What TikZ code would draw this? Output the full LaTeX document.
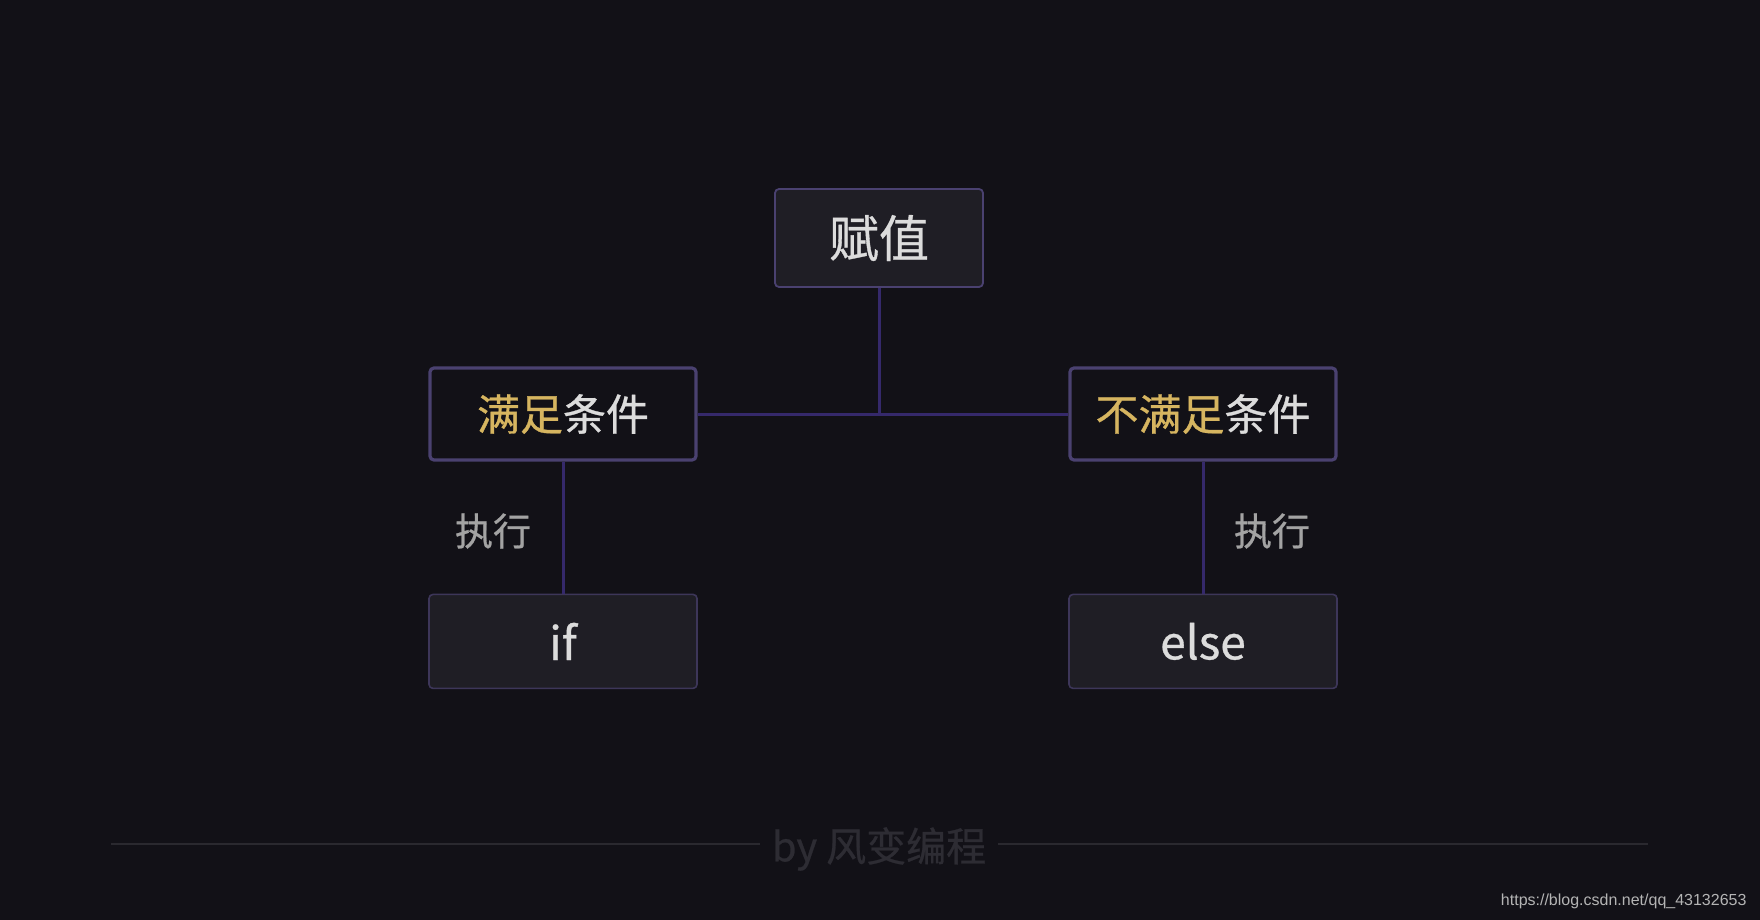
\documentclass[tikz,border=0pt]{standalone}
\usepackage{fontspec}
\setmainfont{Noto Sans CJK SC}
\newfontfamily\medfont{Noto Sans CJK SC}[FakeBold=0.7]
\newfontfamily\markfont{Liberation Sans}
\usepackage{tikz}
\usetikzlibrary{positioning}

\definecolor{bgdark}{HTML}{121117}
\definecolor{boxfill}{HTML}{1F1E25}
\definecolor{edgepurple}{HTML}{4A4170}
\definecolor{leafedge}{HTML}{3D3659}
\definecolor{linkpurple}{HTML}{35296B}
\definecolor{goldtext}{HTML}{D6B560}
\definecolor{lighttext}{HTML}{DCDCDC}
\definecolor{greytext}{HTML}{A3A3A3}
\definecolor{footline}{HTML}{2A292F}
\definecolor{foottext}{HTML}{2D2C33}
\definecolor{marktext}{HTML}{B4B4B4}

\begin{document}
\begin{tikzpicture}[
  x=1pt, y=-1pt,
  head/.style={rectangle, draw=edgepurple, fill=boxfill, line width=1.8pt,
               rounded corners=4pt, minimum width=208pt, minimum height=98pt,
               text=lighttext, font=\medfont\fontsize{50}{56}\selectfont},
  cond/.style={rectangle, draw=edgepurple, fill=bgdark, line width=3.2pt,
               rounded corners=4pt, minimum width=266pt, minimum height=92pt,
               text=lighttext, font=\medfont\fontsize{43}{48}\selectfont},
  leaf/.style={rectangle, draw=leafedge, fill=boxfill, line width=1.6pt,
               rounded corners=4pt, minimum width=268pt, minimum height=94pt,
               text=lighttext, font=\medfont\fontsize{46}{52}\selectfont},
  note/.style={text=greytext, font=\medfont\fontsize{38}{42}\selectfont},
  link/.style={draw=linkpurple, line width=3pt}
]
\fill[bgdark] (0,0) rectangle (1760,920);
\useasboundingbox (0,0) rectangle (1760,920);

\node[head] (top) at (879,238) {赋值};
\node[cond] (yes) at (563,414) {\textcolor{goldtext}{满足}条件};
\node[cond] (no) at (1203,414) {\textcolor{goldtext}{不满足}条件};
\node[leaf, below=132pt of yes] (if) {if};
\node[leaf, below=132pt of no] (else) {else};

\node[note] (runl) at (493,531) {执行};
\node[note] (runr) at (1272,531) {执行};

% connectors
\draw[link] (top.south) -- (top.south |- yes.east);
\draw[link] (yes.east) -- (no.west);
\draw[link] (yes.south) -- (if.north);
\draw[link] (no.south) -- (else.north);

% footer
\node[text=foottext, inner xsep=12pt, font=\medfont\fontsize{40}{44}\selectfont] (brand) at (879,849) {by 风变编程};
\coordinate (footl) at (111,844);
\coordinate (footr) at (1648,844);
\draw[footline, line width=1.5pt] (footl) -- (brand.west |- footl);
\draw[footline, line width=1.5pt] (brand.east |- footr) -- (footr);

\node[text=marktext, font=\markfont\fontsize{16}{18}\selectfont, anchor=east] (mark) at (1750,901) {https://blog.csdn.net/qq\_43132653};
\end{tikzpicture}
\end{document}
